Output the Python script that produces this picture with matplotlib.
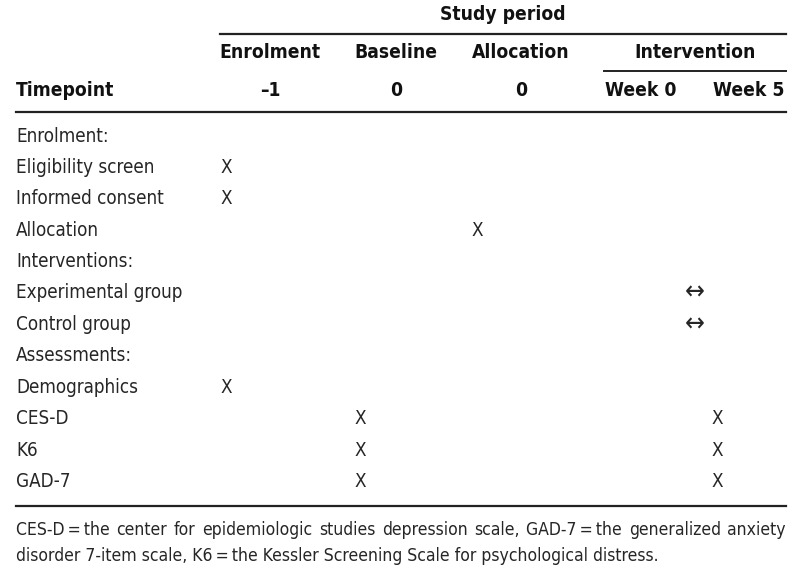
import matplotlib.pyplot as plt
from matplotlib import font_manager as fm

# table content
col_groups = ['Enrolment', 'Baseline', 'Allocation', 'Intervention']
timepoints = ['\u20131', '0', '0', 'Week 0', 'Week 5']
row_labels = ['Enrolment:', 'Eligibility screen', 'Informed consent', 'Allocation',
              'Interventions:', 'Experimental group', 'Control group', 'Assessments:',
              'Demographics', 'CES-D', 'K6', 'GAD-7']
# mark per row: (column index, symbol) ; column 3.5 = between week 0 and week 5
marks = [[], [(0, 'X')], [(0, 'X')], [(2, 'X')],
         [], [(3.5, '\u2194')], [(3.5, '\u2194')], [],
         [(0, 'X')], [(1, 'X'), (4, 'X')], [(1, 'X'), (4, 'X')], [(1, 'X'), (4, 'X')]]
footnote = ['CES-D\u2009=\u2009the center for epidemiologic studies depression scale, GAD-7\u2009=\u2009the generalized anxiety',
            'disorder 7-item scale, K6\u2009=\u2009the Kessler Screening Scale for psychological distress.']

# look for a narrow font, otherwise fall back
narrow = None
for f in fm.fontManager.ttflist:
    if 'Narrow' in f.name or 'Condensed' in f.name or f.stretch in ('condensed', 'semi-condensed'):
        narrow = f
        break
if narrow is not None:
    fam = [narrow.name, 'DejaVu Sans']
    stretch = narrow.stretch
    sc = 1.0
else:
    fam = ['Liberation Sans', 'DejaVu Sans']
    stretch = 'normal'
    sc = 0.92

head_x = [270, 396, 521, 641, 749]
mark_x = {0: 226, 1: 360, 2: 477, 3.5: 695, 4: 717}
ink = '#262626'

fig = plt.figure(figsize=(8, 5.83), dpi=100)
ax = fig.add_axes([0, 0, 1, 1])
ax.set_xlim(0, 800)
ax.set_ylim(583, 0)
ax.axis('off')

hfs = 13.8 * sc
bfs = 13.5 * sc
kw = dict(family=fam, stretch=stretch)
ax.text(503, 15, 'Study period', ha='center', va='center', fontsize=hfs, fontweight='bold', color='#111111', **kw)
ax.plot([220, 786], [34, 34], color='#222222', lw=1.6)
for x, g in zip([270, 396, 521, 695], col_groups):
    ax.text(x, 52, g, ha='center', va='center', fontsize=hfs, fontweight='bold', color='#111111', **kw)
ax.plot([604, 786], [71, 71], color='#222222', lw=1.4)
ax.text(16, 90, 'Timepoint', ha='left', va='center', fontsize=hfs, fontweight='bold', color='#111111', **kw)
for x, t in zip(head_x, timepoints):
    ax.text(x, 90, t, ha='center', va='center', fontsize=hfs, fontweight='bold', color='#111111', **kw)
ax.plot([16, 786], [112, 112], color='#222222', lw=1.6)

y0, dy = 136, 31.4
for i, lab in enumerate(row_labels):
    y = y0 + i * dy
    ax.text(16, y, lab, ha='left', va='center', fontsize=bfs, color=ink, **kw)
    for c, s in marks[i]:
        fs = bfs if s == 'X' else 19
        ax.text(mark_x[c], y, s, ha='center', va='center', fontsize=fs, color=ink, **kw)

ax.plot([16, 786], [506, 506], color='#222222', lw=1.6)

# footnote: first line justified to the table width
ffs = 12.6 * sc
fig.canvas.draw()
rend = fig.canvas.get_renderer()
words = footnote[0].split(' ')
items = [ax.text(0, 530, w, ha='left', va='center', fontsize=ffs, color=ink, **kw) for w in words]
widths = [t.get_window_extent(rend).width for t in items]
gap = (786 - 16 - sum(widths)) / (len(words) - 1)
x = 16
for t, w in zip(items, widths):
    t.set_x(x)
    x += w + gap
ax.text(16, 556, footnote[1], ha='left', va='center', fontsize=ffs, color=ink, **kw)

fig.savefig('out.png', dpi=100)
